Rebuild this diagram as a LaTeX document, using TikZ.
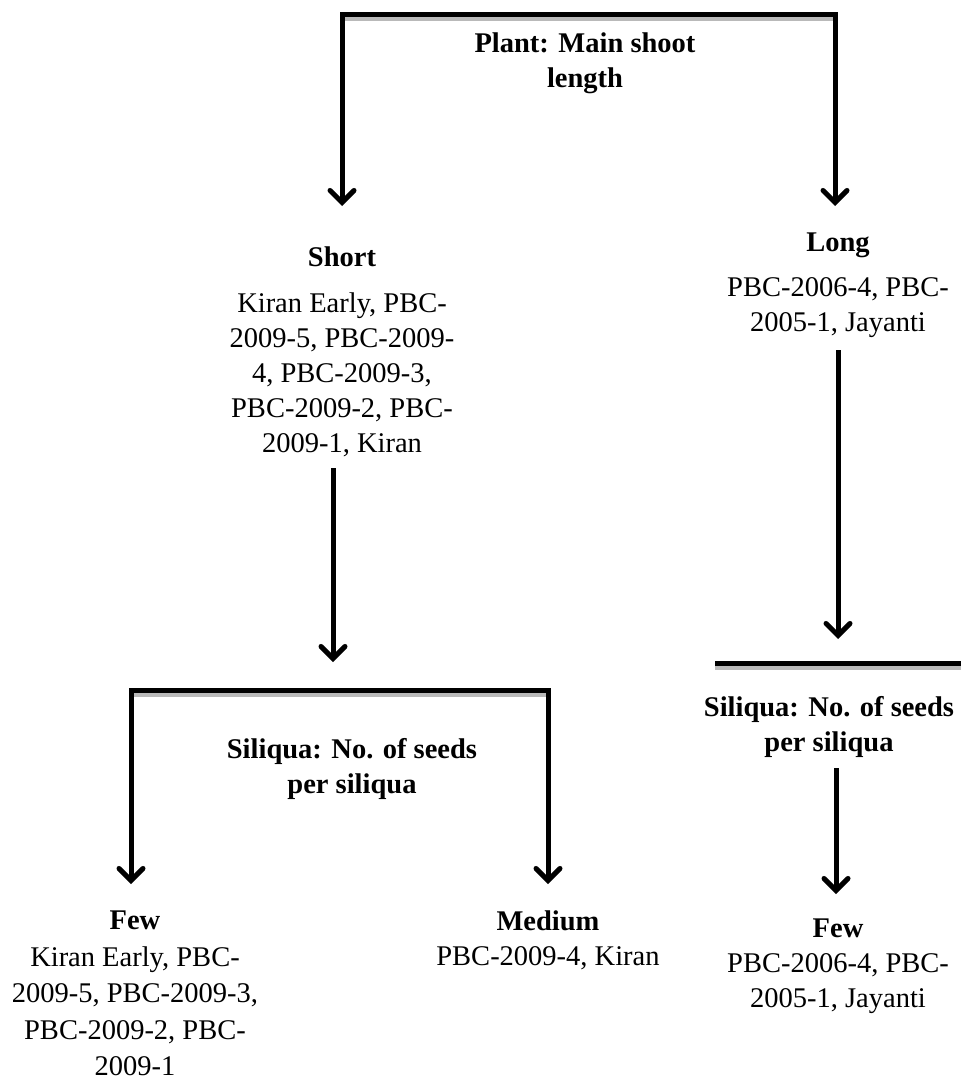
\documentclass[tikz,border=0pt]{standalone}
\usepackage{fontspec}
\setmainfont{Liberation Serif}
\usetikzlibrary{arrows.meta}
\tikzset{
  lbl/.style={align=center, inner sep=0pt, anchor=north, font=\fontsize{28.5}{35}\selectfont},
  hdr/.style={lbl, font=\fontsize{28.5}{35}\selectfont\bfseries},
  bar/.style={line width=5pt, line join=miter},
  arr/.style={bar, -{Straight Barb[length=12pt,width=24pt,line cap=round]}},
  barr/.style={bar, {Straight Barb[length=12pt,width=24pt,line cap=round]}-{Straight Barb[length=12pt,width=24pt,line cap=round]}},
  shade/.style={line width=4pt, gray!55},
}
\begin{document}
\begin{tikzpicture}[x=1pt, y=-1pt]
  \useasboundingbox (0,0) rectangle (961,1084);
  \coordinate (t0) at (342,14);   \coordinate (t1) at (835,14);
  \coordinate (t0b) at (342,206); \coordinate (t1b) at (835,206);
  \coordinate (b0) at (131,690);  \coordinate (b1) at (548,690);
  \coordinate (b0b) at (131,884); \coordinate (b1b) at (548,884);
  \coordinate (r0) at (715,663);  \coordinate (r1) at (961,663);
  \coordinate (s0) at (333,468);  \coordinate (s1) at (333,662);
  \coordinate (l0) at (838,350);  \coordinate (l1) at (838,639);
  \coordinate (f0) at (836,768);  \coordinate (f1) at (836,894);

  \draw[shade] ([xshift=2.5pt,yshift=-5pt]t0) -- ([xshift=-2.5pt,yshift=-5pt]t1);
  \draw[shade] ([xshift=2.5pt,yshift=-5pt]b0) -- ([xshift=-2.5pt,yshift=-5pt]b1);
  \draw[shade] ([yshift=-5pt]r0) -- ([yshift=-5pt]r1);
  \draw[barr] (t0b) -- (t0) -- (t1) -- (t1b);
  \draw[barr] (b0b) -- (b0) -- (b1) -- (b1b);
  \draw[bar] (r0) -- (r1);
  \draw[arr] (s0) -- (s1);
  \draw[arr] (l0) -- (l1);
  \draw[arr] (f0) -- (f1);

  \node[hdr] (plant) at (585,33) {Plant: Main shoot\\length};
  \node[lbl] (short) at (342,247) {\textbf{Short}\\[11pt]Kiran Early, PBC-\\2009-5, PBC-2009-\\4, PBC-2009-3,\\PBC-2009-2, PBC-\\2009-1, Kiran};
  \node[lbl] (long) at (838,233) {\textbf{Long}\\[10pt]PBC-2006-4, PBC-\\2005-1, Jayanti};
  \node[hdr] (sil1) at (352,738) {Siliqua: No. of seeds\\per siliqua};
  \node[hdr] (sil2) at (829,696) {Siliqua: No. of seeds\\per siliqua};
  \node[lbl, font=\fontsize{28.5}{36.5}\selectfont] (few1) at (135,911) {\textbf{Few}\\Kiran Early, PBC-\\2009-5, PBC-2009-3,\\PBC-2009-2, PBC-\\2009-1};
  \node[lbl] (med) at (548,911) {\textbf{Medium}\\PBC-2009-4, Kiran};
  \node[lbl] (few2) at (838,919) {\textbf{Few}\\PBC-2006-4, PBC-\\2005-1, Jayanti};
\end{tikzpicture}
\end{document}
